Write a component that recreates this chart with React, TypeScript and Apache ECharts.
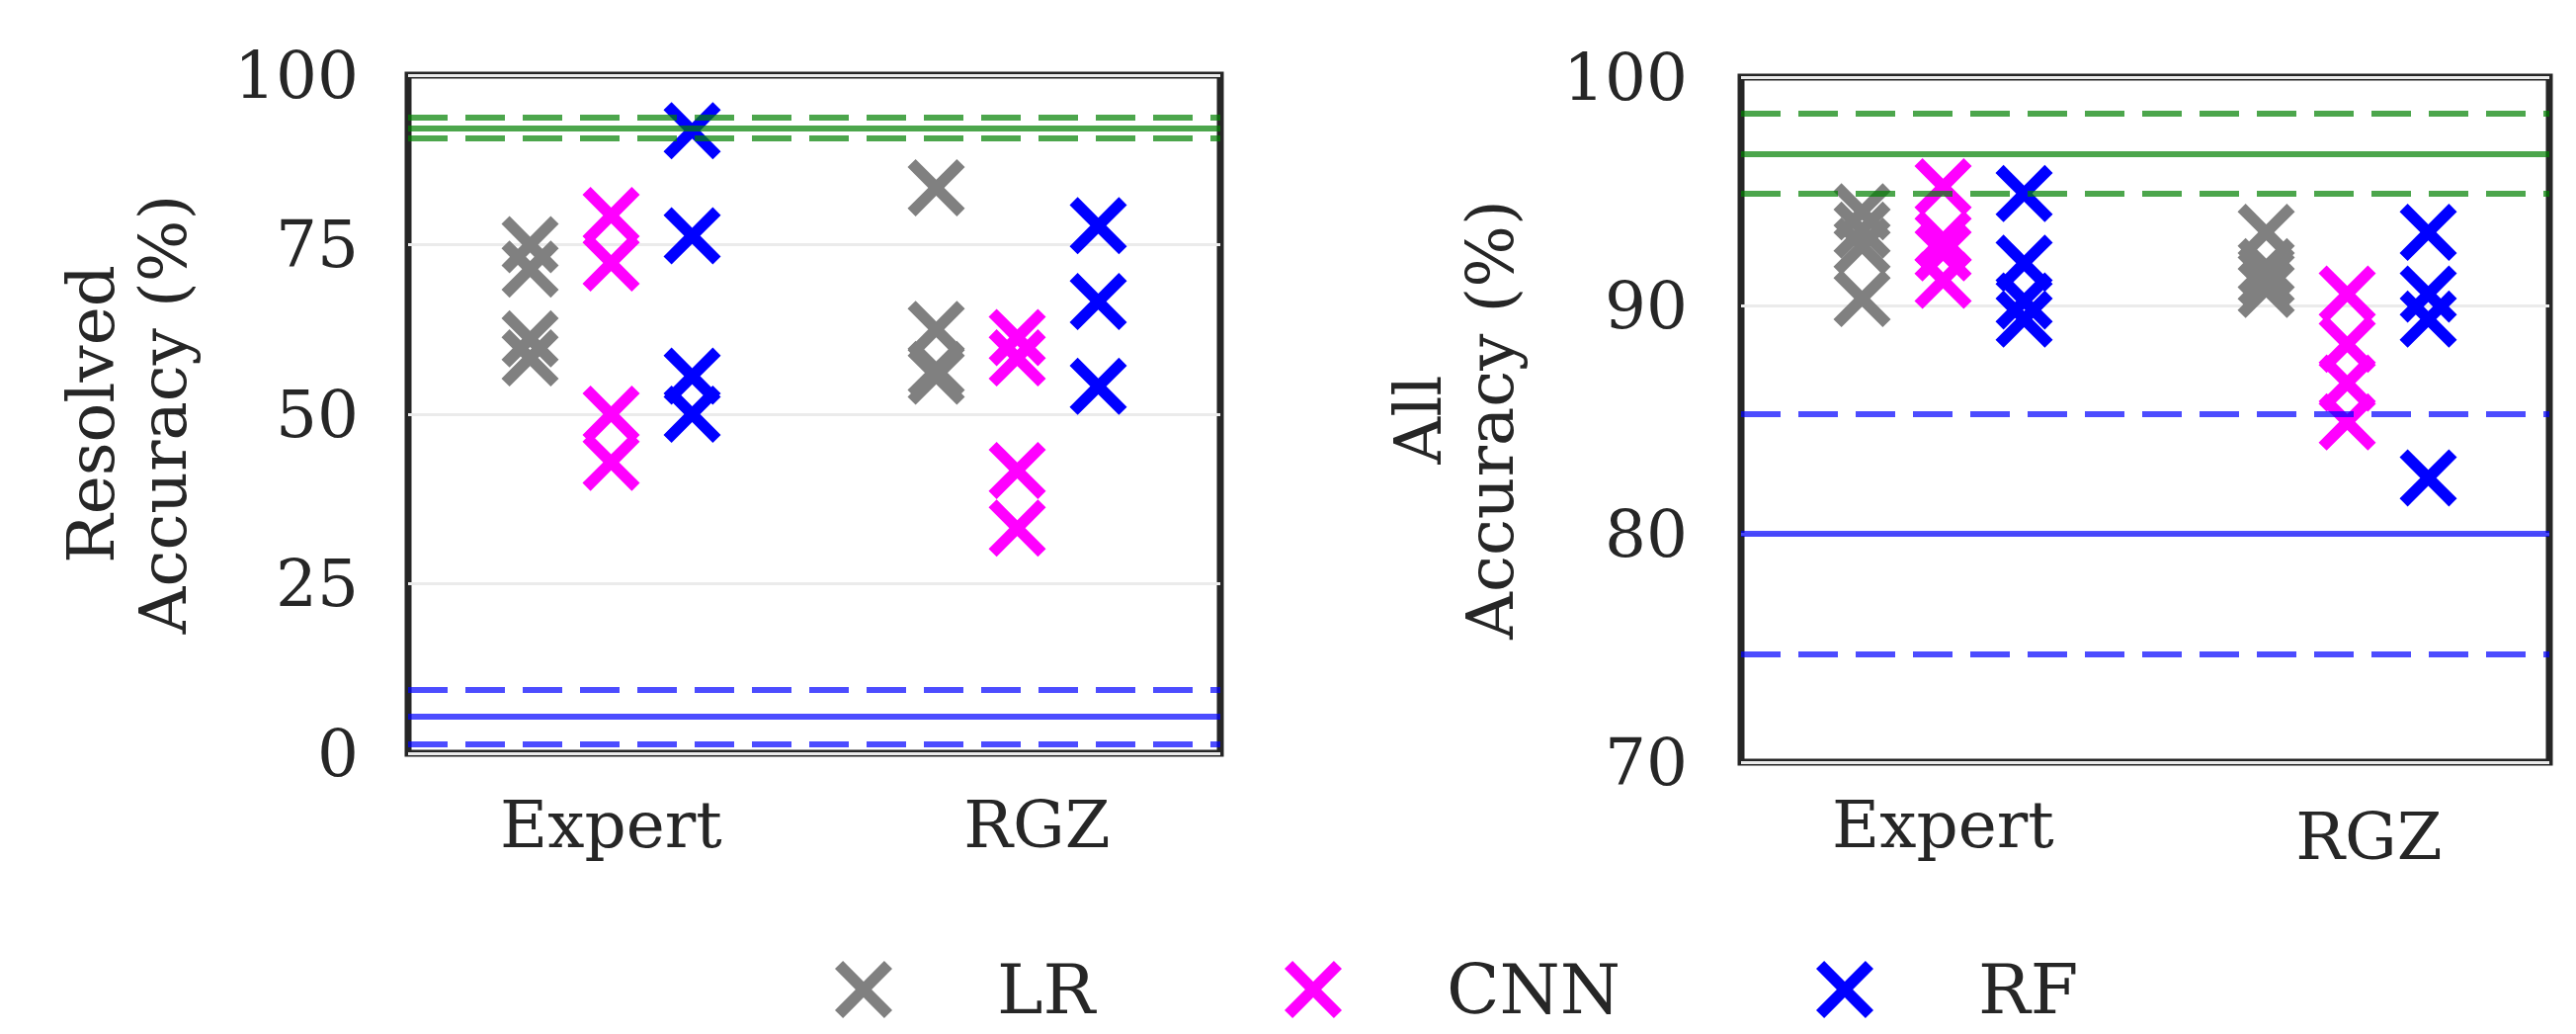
import React, { useEffect, useRef } from 'react';
import * as echarts from 'echarts';

// ---------- data ----------
const categories = ['Expert', 'RGZ'];
const models = ['LR', 'CNN', 'RF'];

// Resolved accuracy (%) — left panel
const resolvedLRExpert = [75.0, 71.4, 61.1, 58.3];
const resolvedLRRGZ = [83.4, 62.5, 56.6, 55.6];
const resolvedCNNExpert = [79.3, 72.3, 50.0, 42.9];
const resolvedCNNRGZ = [61.3, 58.3, 41.7, 33.2];
const resolvedRFExpert = [91.8, 76.3, 55.6, 50.0];
const resolvedRFRGZ = [77.8, 66.6, 54.1];

// All accuracy (%) — right panel
const allLRExpert = [94.1, 93.3, 92.6, 90.3];
const allLRRGZ = [93.2, 91.7, 91.2, 90.7];
const allCNNExpert = [95.2, 92.9, 92.3, 91.1];
const allCNNRGZ = [90.5, 88.3, 86.6, 84.9];
const allRFExpert = [94.9, 91.85, 90.2, 89.4];
const allRFRGZ = [93.2, 90.5, 89.4, 82.45];

// reference lines: [dashed upper, solid mean, dashed lower]
const resolvedGreenLines = [93.7, 92.2, 90.7];
const resolvedBlueLines = [9.4, 5.4, 1.4];
const allGreenLines = [98.4, 96.65, 94.9];
const allBlueLines = [85.25, 80.0, 74.75];

const resolvedTicks = { min: 0, max: 100, interval: 25 };
const allTicks = { min: 70, max: 100, interval: 10 };

// ---------- styles ----------
const FONT = 'DejaVu Serif';
const TEXT = '#262626';
const modelColors = ['#808080', '#ff00ff', '#0000ff'];
const X_PATH =
  'path://M0,14 L14,0 L50,36 L86,0 L100,14 L64,50 L100,86 L86,100 L50,64 L14,100 L0,86 L36,50 Z';
const offsets = [-82, 0, 82];
const GREEN = 'rgba(0,128,0,0.7)';
const BLUE = 'rgba(0,0,255,0.7)';

const pairs = (expert: number[], rgz: number[]) => [
  ...expert.map((v) => [categories[0], v]),
  ...rgz.map((v) => [categories[1], v]),
];

const panelData = [
  [
    pairs(resolvedLRExpert, resolvedLRRGZ),
    pairs(resolvedCNNExpert, resolvedCNNRGZ),
    pairs(resolvedRFExpert, resolvedRFRGZ),
  ],
  [
    pairs(allLRExpert, allLRRGZ),
    pairs(allCNNExpert, allCNNRGZ),
    pairs(allRFExpert, allRFRGZ),
  ],
];

const refLines = (green: number[], blue: number[]) => [
  ...green.map((v, i) => ({
    yAxis: v,
    lineStyle: { color: GREEN, width: 6, type: i === 1 ? 'solid' : [40, 18] },
  })),
  ...blue.map((v, i) => ({
    yAxis: v,
    lineStyle: { color: BLUE, width: 6, type: i === 1 ? 'solid' : [40, 18] },
  })),
];

export default function App() {
  const ref = useRef<HTMLDivElement>(null);

  useEffect(() => {
    if (!ref.current) return;
    const chart = echarts.init(ref.current, undefined, { renderer: 'svg' });

    const xLabel = (margin: number, rgzPad: number[]) => ({
      margin,
      interval: 0,
      hideOverlap: false,
      color: TEXT,
      fontFamily: FONT,
      fontSize: 66,
      formatter: (v: string) => (v === 'RGZ' ? '{r|' + v + '}' : '{e|' + v + '}'),
      rich: {
        e: { fontFamily: FONT, fontSize: 66, color: TEXT },
        r: { fontFamily: FONT, fontSize: 66, color: TEXT, padding: rgzPad },
      },
    });

    const yAxisBase = (gridIndex: number, ticks: any, name: string, nameGap: number, margin: number) => ({
      type: 'value',
      gridIndex,
      min: ticks.min,
      max: ticks.max,
      interval: ticks.interval,
      axisLine: { show: false },
      axisTick: { show: false },
      splitLine: { show: true, lineStyle: { color: '#ebebeb', width: 3 } },
      axisLabel: { margin, color: TEXT, fontFamily: FONT, fontSize: 66 },
      name,
      nameLocation: 'middle',
      nameRotate: 90,
      nameGap,
      nameTextStyle: { color: TEXT, fontFamily: FONT, fontSize: 66, lineHeight: 73 },
    });

    const series: any[] = [];
    [0, 1].forEach((p) => {
      series.push({
        type: 'scatter',
        name: 'ref' + p,
        xAxisIndex: p,
        yAxisIndex: p,
        data: [],
        z: 1,
        silent: true,
        markLine: {
          silent: true,
          symbol: ['none', 'none'],
          label: { show: false },
          data: p === 0
            ? refLines(resolvedGreenLines, resolvedBlueLines)
            : refLines(allGreenLines, allBlueLines),
        },
      });
      models.forEach((m, i) => {
        series.push({
          type: 'scatter',
          name: m,
          xAxisIndex: p,
          yAxisIndex: p,
          symbol: X_PATH,
          symbolSize: 58,
          symbolOffset: [offsets[i], 0],
          itemStyle: { color: modelColors[i], opacity: 1 },
          z: 3,
          data: panelData[p][i],
        });
      });
    });

    const legendLeft = [845, 1300, 1838];

    chart.setOption({
      animation: false,
      backgroundColor: '#ffffff',
      textStyle: { fontFamily: FONT },
      grid: [
        { left: 413, top: 76, width: 822, height: 686, show: true, borderColor: '#262626', borderWidth: 7, backgroundColor: 'transparent' },
        { left: 1762, top: 78, width: 818, height: 693, show: true, borderColor: '#262626', borderWidth: 7, backgroundColor: 'transparent' },
      ],
      xAxis: [
        { type: 'category', gridIndex: 0, data: categories, axisLine: { show: false }, axisTick: { show: false }, splitLine: { show: false }, axisLabel: xLabel(39, [0, 0, 0, 40]) },
        { type: 'category', gridIndex: 1, data: categories, axisLine: { show: false }, axisTick: { show: false }, splitLine: { show: false }, axisLabel: xLabel(30, [12, 0, 0, 44]) },
      ],
      yAxis: [
        yAxisBase(0, resolvedTicks, 'Resolved\nAccuracy (%)', 211, 50),
        yAxisBase(1, allTicks, 'All\nAccuracy (%)', 217, 54),
      ],
      legend: models.map((m, i) => ({
        data: [{ name: m, icon: X_PATH }],
        left: legendLeft[i],
        top: 966,
        padding: 0,
        itemWidth: 58,
        itemHeight: 58,
        selectedMode: false,
        textStyle: { color: TEXT, fontFamily: FONT, fontSize: 70, lineHeight: 70, padding: [0, 0, 0, 101] },
      })),
      series,
    });

    return () => chart.dispose();
  }, []);

  return (
    <div
      ref={ref}
      style={{ position: 'fixed', left: 0, top: 0, width: 2607, height: 1046, background: '#fff' }}
    />
  );
}
